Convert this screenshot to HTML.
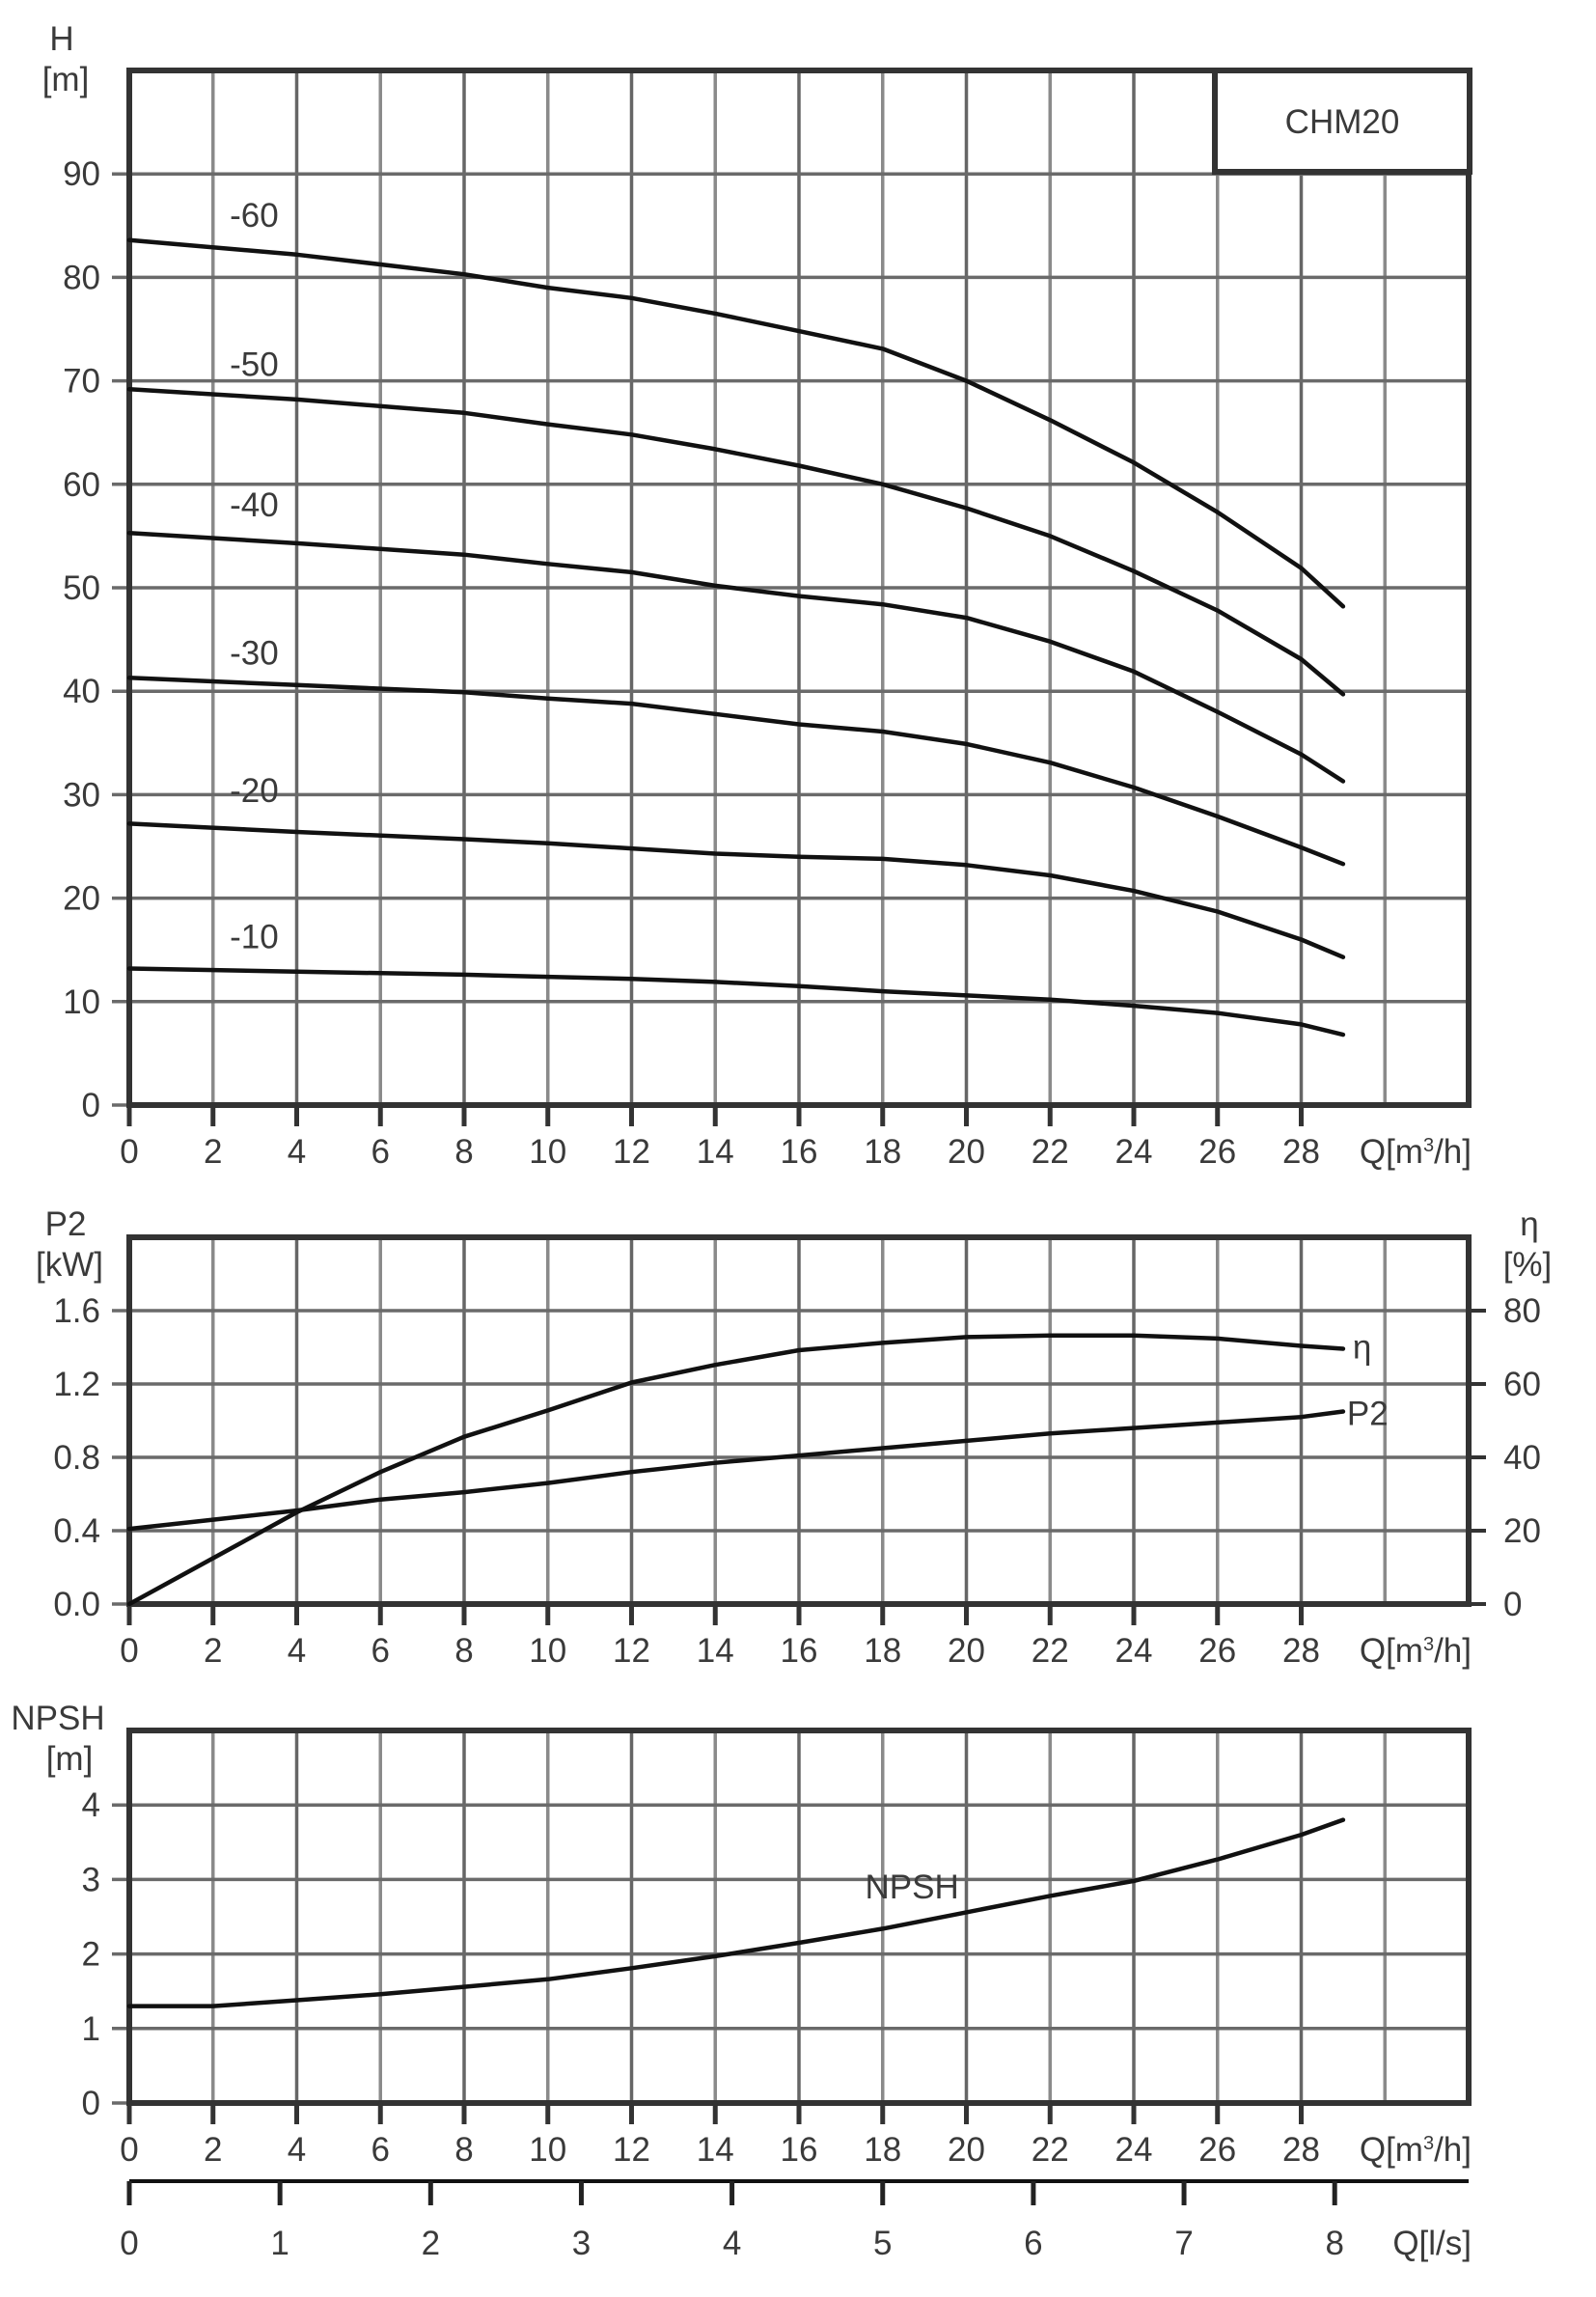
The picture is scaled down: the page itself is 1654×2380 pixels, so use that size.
<!DOCTYPE html>
<html><head><meta charset="utf-8"><style>
html,body{margin:0;padding:0;background:#fff;}
svg{display:block;font-family:"Liberation Sans",sans-serif;}
text{fill:#3a3a3a;font-size:35px;}
</style></head><body>
<svg id="chart" width="1654" height="2380" viewBox="0 0 1654 2380" xmlns="http://www.w3.org/2000/svg">
<g id="g-grid"></g><g id="g-curves"></g><g id="g-text"></g>
</svg>
<script>
const qTicks = [0,2,4,6,8,10,12,14,16,18,20,22,24,26,28];
const qPts = [0,4,8,10,12,14,16,18,20,22,24,26,28,29];
const hLabels = ["-60","-50","-40","-30","-20","-10"];
const h60 = [83.6,82.2,80.3,79,78,76.5,74.8,73.1,70,66.2,62.1,57.3,51.9,48.2];
const h50 = [69.2,68.2,66.9,65.8,64.8,63.4,61.8,60,57.7,55,51.6,47.8,43.1,39.7];
const h40 = [55.3,54.3,53.2,52.3,51.5,50.2,49.2,48.4,47.1,44.8,41.9,38,33.9,31.3];
const h30 = [41.3,40.6,39.9,39.3,38.8,37.8,36.8,36.1,34.9,33.1,30.7,27.9,24.9,23.3];
const h20 = [27.2,26.4,25.7,25.3,24.8,24.3,24,23.8,23.2,22.2,20.7,18.7,16,14.3];
const h10 = [13.2,12.9,12.6,12.4,12.2,11.9,11.5,11,10.6,10.2,9.6,8.9,7.8,6.8];
const hLabelPos = [86,71.6,58,43.7,30.4,16.3];
const hTicks = [0,10,20,30,40,50,60,70,80,90];
const qPts2 = [0,2,4,6,8,10,12,14,16,18,20,22,24,26,28,29];
const p2Vals = [0.41,0.46,0.51,0.57,0.61,0.66,0.72,0.77,0.81,0.85,0.89,0.93,0.96,0.99,1.02,1.05];
const etaVals = [0,12.5,25,36,45.6,52.8,60.4,65.2,69.2,71.2,72.8,73.2,73.2,72.4,70.4,69.6];
const pTicks = ["0.0","0.4","0.8","1.2","1.6"];
const etaTicks = ["0","20","40","60","80"];
const npshVals = [1.3,1.3,1.38,1.46,1.56,1.66,1.81,1.97,2.15,2.34,2.56,2.78,2.98,3.27,3.6,3.8];
const nTicks = [0,1,2,3,4];
const lsTicks = [0,1,2,3,4,5,6,7,8];

const NS="http://www.w3.org/2000/svg";
const L=134,R=1522;
const X=q=>L+q*(R-L)/32;
const P1={top:73,bot:1145,max:100}, P2={top:1282,bot:1662,max:2}, P3={top:1793,bot:2179,max:5};
const Y=(p,v)=>p.bot-v*(p.bot-p.top)/p.max;
const gG=document.getElementById('g-grid'),gC=document.getElementById('g-curves'),gT=document.getElementById('g-text');
function el(par,tag,attrs){const e=document.createElementNS(NS,tag);for(const k in attrs)e.setAttribute(k,attrs[k]);par.appendChild(e);return e;}
function txt(x,y,s,anchor,size){const t=el(gT,'text',{x:x,y:y,'text-anchor':anchor||'middle'});if(size)t.style.fontSize=size+'px';t.textContent=s;return t;}

function panel(p,name,yTickVals,yLabelFn,rightTicks){
  for(let q=2;q<=30;q+=2){const ln=el(gG,'line',{x1:X(q),x2:X(q),y1:p.top,y2:p.bot,stroke:(q%4==0?'#666':'#8a8a8a'),'stroke-width':3.5});
    }
  yTickVals.forEach((v,i)=>{const y=Y(p,v);
    const ln=el(gG,'line',{x1:L-18,x2:R,y1:y,y2:y,stroke:'#6a6a6a','stroke-width':3.5});
    
    const t=txt(L-30,y+12,yLabelFn(i),'end');
    
    if(rightTicks){el(gG,'line',{x1:R,x2:R+18,y1:y,y2:y,stroke:'#333','stroke-width':4});
      const t2=txt(R+36,y+12,rightTicks[i],'start');
      }
  });
  const b=el(gG,'rect',{x:L,y:p.top,width:R-L,height:p.bot-p.top,fill:'none',stroke:'#333','stroke-width':6});
  
  qTicks.forEach(q=>{el(gG,'line',{x1:X(q),x2:X(q),y1:p.bot,y2:p.bot+22,stroke:'#333','stroke-width':5});
    const t=txt(X(q),p.bot+60,String(q));
    });
  const ql=txt(R+3,p.bot+60,'','end');ql.innerHTML='Q[m<tspan dy="-12" style="font-size:20px">3</tspan><tspan dy="12">/h]</tspan>';
  
}
function curve(p,xs,ys,name,w){
  const d=xs.map((q,i)=>(i?'L':'M')+X(q).toFixed(1)+','+Y(p,ys[i]).toFixed(1)).join(' ');
  const c=el(gC,'path',{d:d,fill:'none',stroke:'#111','stroke-width':w||4.5,'stroke-linejoin':'round','stroke-linecap':'round'});
  
}

// Panel 1
panel(P1,'head-chart',hTicks,i=>String(hTicks[i]));
const box=el(gG,'rect',{x:1259,y:73,width:264,height:105,fill:'#fff',stroke:'#333','stroke-width':6});

const m=txt(1391,138,'CHM20');
[h60,h50,h40,h30,h20,h10].forEach((s,i)=>{curve(P1,qPts,s,'head-curve'+hLabels[i]);
  const t=txt(X(2.4),Y(P1,hLabelPos[i])+12,hLabels[i],'start');
  });
let a=txt(64,52,'H');
a=txt(68,94,'[m]');

// Panel 2
panel(P2,'power-chart',[0,0.4,0.8,1.2,1.6],i=>pTicks[i],etaTicks);
curve(P2,qPts2,p2Vals,'p2-curve');
curve(P2,qPts2,etaVals.map(e=>e*0.02),'efficiency-curve');
a=txt(X(29)+4,Y(P2,p2Vals[15])+14,'P2','start');
a=txt(X(29)+10,Y(P2,etaVals[15]*0.02)+10,'η','start');
a=txt(68,1280,'P2');
a=txt(72,1322,'[kW]');
a=txt(1585,1280,'η');
a=txt(1583,1322,'[%]');

// Panel 3
panel(P3,'npsh-chart',nTicks,i=>String(nTicks[i]));
curve(P3,qPts2,npshVals,'npsh-curve');
a=txt(X(18.7),Y(P3,2.9)+12,'NPSH');
a=txt(60,1792,'NPSH');
a=txt(72,1834,'[m]');

// l/s axis
const ax=el(gG,'line',{x1:L,x2:R,y1:2260,y2:2260,stroke:'#111','stroke-width':4});

lsTicks.forEach(v=>{const x=X(v*3.6);el(gG,'line',{x1:x,x2:x,y1:2260,y2:2285,stroke:'#222','stroke-width':5});
  const t=txt(x,2336,String(v));});
a=txt(R+3,2336,'Q[l/s]','end');
</script>
</body></html>
